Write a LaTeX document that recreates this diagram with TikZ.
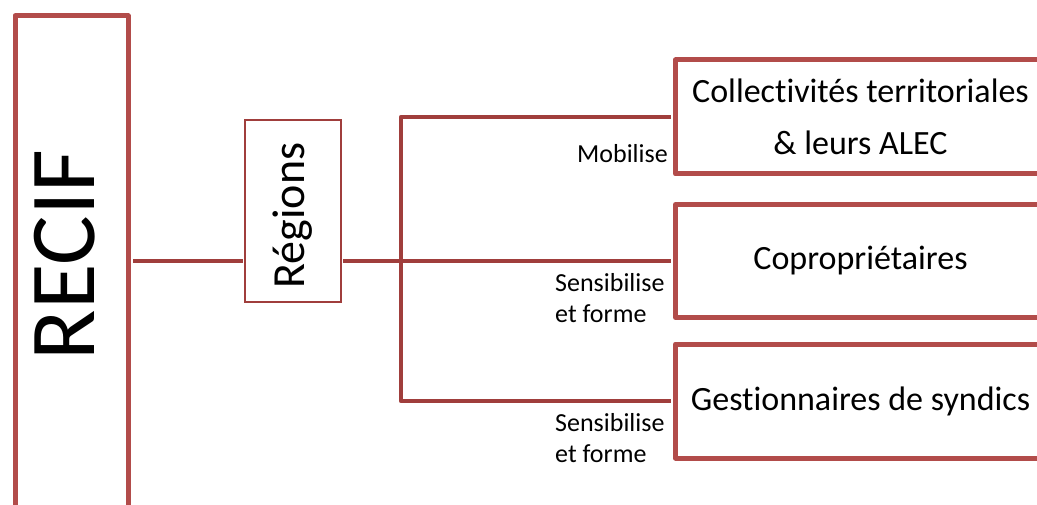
\documentclass[tikz,border=0pt]{standalone}
\usepackage{fontspec}
\setmainfont{Carlito}[Ligatures=NoCommon]
\usetikzlibrary{positioning}

\definecolor{boxred}{RGB}{178,76,74}
\definecolor{linkred}{RGB}{160,62,60}

\begin{document}
\begin{tikzpicture}[x=1pt, y=-1pt,
        outerbox/.style={draw=boxred, line width=5pt, line join=round, fill=white, inner sep=0pt},
        regionbox/.style={draw=linkred, line width=2pt, fill=white, inner sep=0pt},
        target/.style={outerbox, anchor=west, minimum width=370pt, align=center,
            font=\fontsize{34}{52}\selectfont},
        link/.style={draw=linkred, line width=4.5pt, line join=round},
        verb/.style={font=\fontsize{26}{31}\selectfont, inner sep=0pt, align=left}]
    \useasboundingbox (0,0) rectangle (1037,505);

    % RECIF, open past the lower edge
    \node[outerbox, anchor=north west, minimum width=113pt, minimum height=540pt] (recif) at (12.5,13.3) {};
    \node[rotate=90, inner sep=0pt, font=\fontsize{93}{93}\selectfont] (reciftext) at (65,255) {RECIF};

    % Regions
    \node[regionbox, minimum width=96pt, minimum height=182pt] (regions) at (293,211)
        {\fontsize{46}{46}\selectfont\rotatebox{90}{Régions\hspace*{9pt}}};

    % Targets, open past the right edge
    \node[target, minimum height=114pt] (coll) at (673,117) {Collectivités territoriales\\ \& leurs ALEC};
    \node[target, minimum height=113pt] (copro) at (673,261) {Copropriétaires};
    \node[target, minimum height=114pt] (gest) at (673,401) {Gestionnaires de syndics};

    \coordinate (hub) at (401,261);

    \draw[link, shorten <=2.5pt, shorten >=1pt] (recif.east |- hub) -- (regions.west |- hub);
    \draw[link, shorten <=1pt] (regions.east |- hub) -- (hub);
    \draw[link, shorten <=2.5pt, shorten >=2.5pt] (coll.west) -| (hub) |- (gest.west);
    \draw[link, shorten >=2.5pt] (hub) -- (copro.west);

    % Verbs
    \node[verb, anchor=base east] (mob) at (668,163) {Mobilise};
    \node[verb, anchor=north west] (sens) at (555,273.5) {Sensibilise\\et forme};
    \node[verb, anchor=north west] (form) at (555,413.5) {Sensibilise\\et forme};
\end{tikzpicture}
\end{document}
